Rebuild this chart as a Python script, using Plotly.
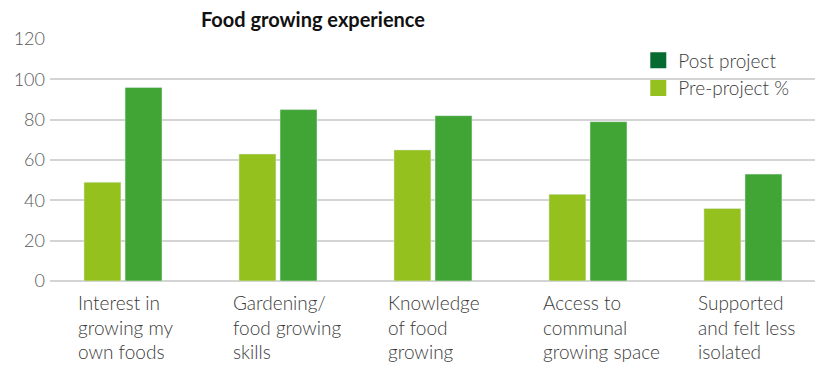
import plotly.graph_objects as go

categories = ["Interest in<br>growing my<br>own foods", "Gardening/<br>food growing<br>skills",
              "Knowledge<br>of food<br>growing", "Access to<br>communal<br>growing space",
              "Supported<br>and felt less<br>isolated"]
cat_ids = ["c0", "c1", "c2", "c3", "c4"]
pre_project = [49, 63, 65, 43, 36]
post_project = [96, 85, 82, 79, 53]
y_ticks = [0, 20, 40, 60, 80, 100, 120]

PRE_COLOR = "#95c11f"
POST_COLOR = "#41a535"
POST_LEGEND_COLOR = "#066b30"
FONT = "Lato"

fig = go.Figure()
fig.add_trace(go.Bar(x=cat_ids, y=pre_project, marker_color=PRE_COLOR, showlegend=False,
                     name="Pre-project %"))
fig.add_trace(go.Bar(x=cat_ids, y=post_project, marker_color=POST_COLOR, showlegend=False,
                     name="Post project"))
# legend-only entries
fig.add_trace(go.Scatter(x=[None], y=[None], mode="markers", name="Post project",
                         marker=dict(symbol="square", size=20, color=POST_LEGEND_COLOR)))
fig.add_trace(go.Scatter(x=[None], y=[None], mode="markers", name="Pre-project %",
                         marker=dict(symbol="square", size=20, color=PRE_COLOR)))

for cid, lab in zip(cat_ids, categories):
    fig.add_annotation(x=cid, y=0, xref="x", yref="y", text=lab, showarrow=False,
                       xanchor="left", yanchor="top", align="left", xshift=-47, yshift=-8,
                       font=dict(family=FONT, size=19, color="#3a3a3a", weight=300))

fig.update_layout(
    width=815, height=367,
    margin=dict(l=50, r=0, t=39, b=86),
    paper_bgcolor="white", plot_bgcolor="white",
    barmode="group", bargap=0.47, bargroupgap=0.1,
    title=dict(text="<b>Food growing experience</b>", x=0.384, xref="container", xanchor="center",
               y=0.945, yref="container", yanchor="middle",
               font=dict(family=FONT, size=20, color="#111111")),
    legend=dict(x=0.769, y=0.99, xanchor="left", yanchor="top", bgcolor="rgba(0,0,0,0)",
                font=dict(family=FONT, size=19, color="#3a3a3a", weight=300),
                itemwidth=30, tracegroupgap=0),
    font=dict(family=FONT),
)
fig.update_xaxes(type="category", range=[-0.471, 4.465], showticklabels=False, showgrid=False,
                 zeroline=False, showline=False, ticks="")
fig.update_yaxes(range=[0, 120], tickvals=y_ticks, showgrid=True, gridcolor="#d4d4d4", gridwidth=1.5,
                 zeroline=True, zerolinecolor="#d4d4d4", zerolinewidth=2, showline=False,
                 ticklabelstandoff=4,
                 tickfont=dict(family=FONT, size=18, color="#595959", weight=300))

fig.write_html("out.html")
